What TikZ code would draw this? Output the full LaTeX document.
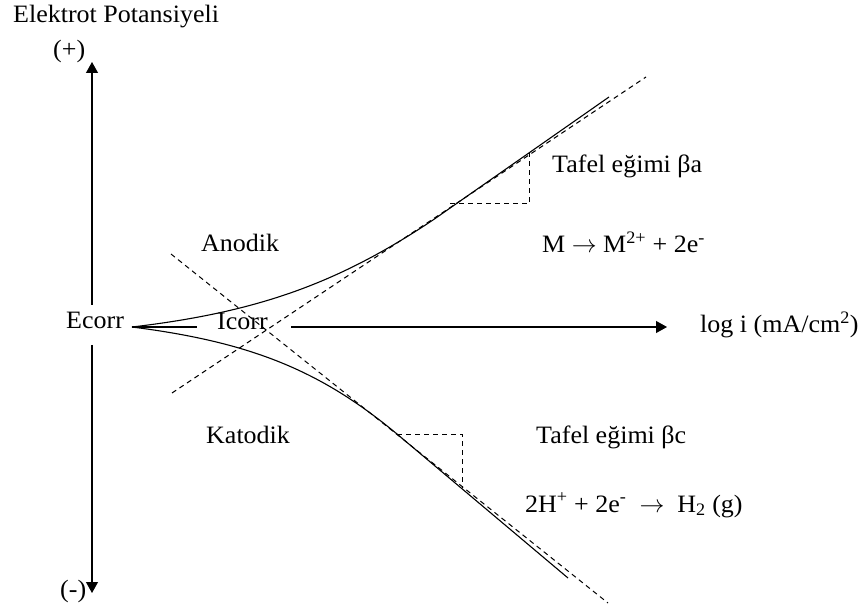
\documentclass[tikz,border=0pt]{standalone}
\usepackage{fontspec}
\setmainfont{Liberation Serif}[FakeStretch=1.04]
\usetikzlibrary{arrows.meta}
\begin{document}
\begin{tikzpicture}[x=1pt,y=-1pt,
  lbl/.style={anchor=base west,inner sep=0pt,font=\fontsize{25}{30}\selectfont},
  axisarrow/.style={line width=1.1pt,-{Triangle[length=11pt,width=12pt]}},
  curveline/.style={line width=1.1pt},
  tafel/.style={line width=1pt,dash pattern=on 5pt off 4pt}]
\useasboundingbox (0,0) rectangle (862,609);
% labels
\node[lbl] (title) at (13,23) {Elektrot Potansiyeli};
\node[lbl] (plus) at (53,58) {(+)};
\node[lbl] (minus) at (60,597) {(-)};
\node[lbl] (ecorr) at (66,329) {Ecorr};
\node[lbl] (icorr) at (217,330) {Icorr};
\node[lbl] (anodik) at (201,252) {Anodik};
\node[lbl] (katodik) at (206,443) {Katodik};
\node[lbl] (ta) at (552,173) {Tafel eğimi βa};
\node[lbl] (tc) at (536,443) {Tafel eğimi βc};
\node[lbl] (ra) at (542,253) {M $\rightarrow$ M\textsuperscript{2+} + 2e\textsuperscript{-}};
\node[lbl] (logi) at (700,333) {log i (mA/cm\textsuperscript{2})};
\node[lbl] (rc) at (525,512) {2H\textsuperscript{+} + 2e\textsuperscript{-} ~$\rightarrow$~ H\textsubscript{2} (g)};
% coordinates
\coordinate (E) at (132,327);
\coordinate (ytop) at (92,62);
\coordinate (ybot) at (92,593);
\coordinate (y1) at (92,305);
\coordinate (y2) at (92,345);
\coordinate (s1) at (197,327);
\coordinate (x1) at (291,327);
\coordinate (xtip) at (667,327);
\coordinate (ta1) at (172,393);
\coordinate (ta2) at (646,77);
\coordinate (tc1) at (171,254);
\coordinate (tc2) at (608,603);
\coordinate (ua) at (433,220);
\coordinate (uend) at (609,97);
\coordinate (lc) at (397,434);
\coordinate (lend) at (568,578);
% axes
\draw[axisarrow] (y1) -- (ytop);
\draw[axisarrow] (y2) -- (ybot);
\draw[axisarrow] (x1) -- (xtip);
\draw[curveline] (E) -- (s1);
% Tafel lines
\draw[tafel] (ta1) -- (ta2);
\draw[tafel] (tc1) -- (tc2);
% polarization curves
\draw[curveline] (E) .. controls (260,312) and (340,282) .. (ua) -- (uend);
\draw[curveline] (E) .. controls (250,342) and (320,370) .. (lc) -- (lend);
% slope triangles
\draw[tafel] (450,204) -- (529,204) -- (529,153);
\draw[tafel] (lc) -- (462,434) -- (462,488);
\end{tikzpicture}
\end{document}
